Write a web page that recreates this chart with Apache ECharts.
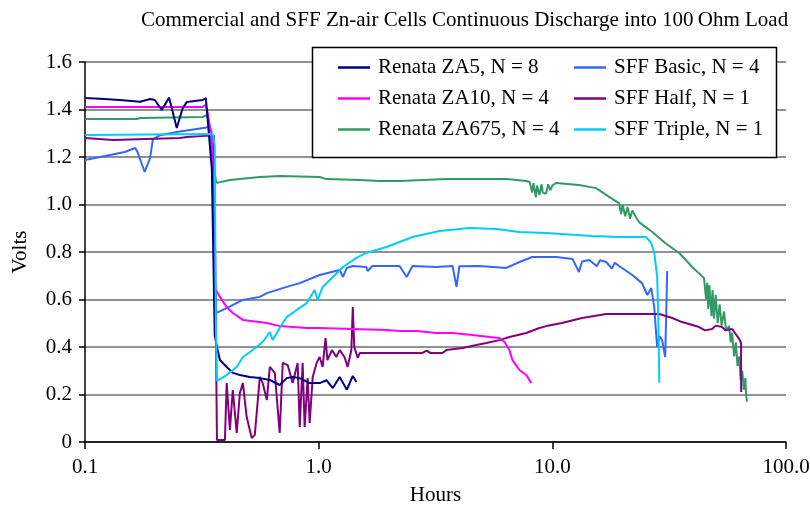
<!DOCTYPE html>
<html>
<head>
<meta charset="utf-8">
<script src="https://cdn.jsdelivr.net/npm/echarts@6/dist/echarts.min.js"></script>
<style>
  html, body { margin: 0; padding: 0; background: #fff; }
  #chart { width: 810px; height: 505px; }
</style>
</head>
<body>
<div id="chart"></div>
<script>
// [hours, volts]
const za5 = [[0.100,1.448],[0.116,1.445],[0.141,1.440],[0.172,1.433],[0.190,1.444],[0.199,1.440],[0.213,1.398],[0.229,1.450],
  [0.247,1.322],[0.262,1.406],[0.273,1.432],[0.319,1.440],[0.329,1.448],[0.332,1.44],[0.349,1.15],[0.359,0.45],[0.367,0.40],
  [0.378,0.345],[0.404,0.316],[0.429,0.291],[0.460,0.282],[0.507,0.274],[0.560,0.269],[0.618,0.261],[0.681,0.240],
  [0.730,0.269],[0.774,0.274],[0.830,0.269],[0.915,0.248],[1.01,0.248],[1.08,0.26],[1.15,0.227],[1.23,0.274],
  [1.32,0.22],[1.40,0.278],[1.45,0.253]];

const za10 = [[0.100,1.411],[0.200,1.411],[0.319,1.411],[0.329,1.42],[0.336,1.38],[0.349,1.27],[0.359,0.65],[0.378,0.611],
  [0.404,0.568],[0.429,0.543],[0.474,0.514],[0.600,0.501],[0.681,0.488],[0.889,0.480],[1.0,0.480],[1.95,0.472],
  [2.22,0.467],[2.62,0.467],[3.19,0.459],[3.74,0.459],[4.55,0.451],[5.38,0.442],[5.94,0.438],[6.24,0.421],
  [6.55,0.387],[6.75,0.345],[7.23,0.303],[7.74,0.282],[8.13,0.248]];

const za675 = [[0.100,1.360],[0.167,1.360],[0.172,1.364],[0.319,1.368],[0.332,1.377],[0.342,1.33],[0.352,1.2],[0.363,1.10],
  [0.367,1.091],[0.417,1.103],[0.560,1.116],[0.681,1.120],[1.01,1.116],[1.08,1.107],[1.50,1.103],[1.82,1.099],
  [2.22,1.099],[3.52,1.107],[6.36,1.107],[7.74,1.099],[8.0,1.095],[8.2,1.05],[8.3,1.09],[8.5,1.03],[8.6,1.08],
  [8.8,1.04],[9.0,1.085],[9.1,1.05],[9.4,1.045],[9.6,1.085],[9.8,1.06],[10.0,1.08],[10.4,1.091],[13.0,1.082],
  [15.4,1.069],[17.5,1.032],[19.3,1.006],[19.7,0.96],[20.0,1.0],[20.5,0.95],[21.0,0.99],[21.5,0.94],[22.0,0.975],
  [23.0,0.94],[23.5,0.926],[26.8,0.884],[30.4,0.838],[34.9,0.796],[39.7,0.737],[44.6,0.69],[45.5,0.60],[46.0,0.67],
  [46.5,0.56],[47.0,0.66],[48.0,0.53],[48.5,0.64],[49.2,0.52],[50.0,0.62],[51.0,0.50],[52.0,0.58],[53.0,0.49],
  [54.3,0.55],[55.4,0.47],[57.1,0.488],[58.0,0.42],[58.8,0.46],[60.0,0.36],[61.0,0.42],[62.0,0.32],[63.0,0.36],
  [64.0,0.26],[65.0,0.30],[66.0,0.22],[67.0,0.27],[67.5,0.20],[68.1,0.17]];

const sffBasic = [[0.100,1.187],[0.128,1.208],[0.148,1.221],[0.164,1.238],[0.168,1.22],[0.180,1.137],[0.190,1.196],
  [0.195,1.272],[0.209,1.292],[0.247,1.305],[0.301,1.318],[0.342,1.326],[0.349,1.30],[0.356,0.9],[0.363,0.543],
  [0.370,0.547],[0.404,0.564],[0.474,0.598],[0.560,0.611],[0.600,0.627],[0.730,0.653],[0.830,0.669],[1.01,0.703],
  [1.23,0.724],[1.27,0.695],[1.32,0.733],[1.40,0.741],[1.60,0.737],[1.62,0.72],[1.70,0.741],[2.22,0.741],[2.38,0.695],
  [2.52,0.741],[3.19,0.737],[3.74,0.741],[3.89,0.653],[4.0,0.74],[4.88,0.741],[6.36,0.733],[7.23,0.758],[8.21,0.779],
  [10.4,0.779],[12.2,0.771],[13.0,0.716],[13.4,0.76],[14.4,0.766],[15.5,0.74],[16.0,0.765],[17.0,0.758],[18.0,0.73],
  [18.5,0.755],[19.3,0.741],[22.0,0.703],[24.2,0.669],[25.5,0.619],[26.5,0.648],[27.3,0.568],[27.8,0.459],[28.1,0.40],
  [28.7,0.446],[29.5,0.429],[30.4,0.358],[30.7,0.526],[31.0,0.72]];

const sffHalf = [[0.100,1.280],[0.132,1.272],[0.255,1.280],[0.273,1.284],[0.340,1.29],[0.356,1.29],[0.363,0.5],[0.367,0.008],
  [0.397,0.008],[0.404,0.248],[0.417,0.051],[0.429,0.219],[0.446,0.038],[0.460,0.206],[0.474,0.248],[0.492,0.105],
  [0.517,0.017],[0.533,0.03],[0.560,0.274],[0.576,0.248],[0.600,0.177],[0.618,0.316],[0.649,0.291],[0.681,0.038],
  [0.702,0.333],[0.737,0.324],[0.774,0.248],[0.813,0.333],[0.830,0.063],[0.854,0.333],[0.871,0.063],[0.897,0.269],
  [0.915,0.080],[0.943,0.274],[0.980,0.333],[1.01,0.358],[1.04,0.316],[1.07,0.438],[1.09,0.345],[1.14,0.387],
  [1.19,0.358],[1.23,0.387],[1.29,0.358],[1.33,0.316],[1.38,0.387],[1.40,0.568],[1.42,0.400],[1.47,0.354],[1.50,0.375],
  [2.78,0.375],[2.9,0.385],[3.0,0.375],[3.39,0.375],[3.52,0.387],[4.13,0.396],[4.73,0.408],[5.22,0.417],[5.94,0.429],
  [6.55,0.442],[7.74,0.459],[8.80,0.480],[9.43,0.488],[11.0,0.501],[13.4,0.522],[17.0,0.539],[28.7,0.539],[32.6,0.522],
  [35.9,0.505],[42.5,0.484],[45.0,0.47],[48.3,0.476],[50.0,0.49],[53.3,0.484],[55.0,0.47],[58.8,0.476],[63.0,0.434],
  [64.2,0.417],[64.3,0.211]];

const sffTriple = [[0.100,1.293],[0.352,1.297],[0.359,1.25],[0.363,0.5],[0.367,0.257],[0.404,0.282],[0.446,0.316],
  [0.474,0.358],[0.522,0.387],[0.576,0.421],[0.618,0.463],[0.636,0.429],[0.681,0.480],[0.730,0.526],[0.805,0.556],
  [0.889,0.585],[0.961,0.640],[0.990,0.598],[1.04,0.653],[1.15,0.695],[1.27,0.737],[1.45,0.775],[1.60,0.796],
  [1.95,0.821],[2.22,0.842],[2.52,0.863],[3.29,0.888],[4.42,0.901],[5.77,0.897],[7.23,0.884],[9.43,0.880],
  [14.8,0.867],[19.3,0.863],[25.2,0.863],[26.5,0.838],[27.3,0.796],[28.1,0.695],[28.4,0.526],[28.7,0.25]];

const seriesNames = ['Renata ZA5, N = 8', 'Renata ZA10, N = 4', 'Renata ZA675, N = 4',
  'SFF Basic, N = 4', 'SFF Half, N = 1', 'SFF Triple, N = 1'];
const seriesData = [za5, za10, za675, sffBasic, sffHalf, sffTriple];
const colors = ['#000080', '#FF00FF', '#339966', '#3366FF', '#800080', '#00CCFF'];
// draw order (last on top)
const drawOrder = [2, 3, 4, 1, 0, 5];

const font = 'Liberation Serif';
const chart = echarts.init(document.getElementById('chart'), null, { renderer: 'canvas' });

const series = drawOrder.map(i => ({
  name: seriesNames[i],
  type: 'line',
  data: seriesData[i],
  symbol: 'none',
  color: colors[i],
  lineStyle: { width: 2, color: colors[i] },
  animation: false
}));

const legendText = { fontFamily: font, fontSize: 21, color: '#000', padding: [0, 0, 0, 3] };
const legendBase = {
  orient: 'vertical',
  top: 52,
  icon: 'rect',
  itemWidth: 32,
  itemHeight: 2.5,
  itemGap: 10,
  textStyle: legendText
};

const option = {
  backgroundColor: '#fff',
  title: {
    text: 'Commercial and SFF Zn-air Cells Continuous Discharge into 100\u2009Ohm Load',
    left: 136,
    top: 5,
    textStyle: { fontFamily: font, fontSize: 21, fontWeight: 'normal', color: '#000' }
  },
  legend: [
    Object.assign({ data: seriesNames.slice(0, 3), left: 333 }, legendBase),
    Object.assign({ data: seriesNames.slice(3), left: 569 }, legendBase)
  ],
  graphic: [{
    type: 'rect',
    shape: { x: 312.5, y: 47.5, width: 464, height: 110 },
    style: { fill: '#fff', stroke: '#000', lineWidth: 1.5 },
    z: 4
  }],
  grid: { left: 85, right: 24, top: 62, bottom: 63, outerBoundsMode: 'none', containLabel: false },
  xAxis: {
    type: 'log',
    logBase: 10,
    min: 0.1,
    max: 100,
    name: 'Hours',
    nameLocation: 'middle',
    nameGap: 43,
    nameTextStyle: { fontFamily: font, fontSize: 21, color: '#000' },
    axisLine: { lineStyle: { color: '#000', width: 1.5 } },
    axisTick: { show: true, length: 7, lineStyle: { color: '#000', width: 1.5 } },
    minorTick: { show: false },
    splitLine: { show: false },
    axisLabel: {
      fontFamily: font, fontSize: 21, color: '#000', margin: 15,
      formatter: v => v.toFixed(1)
    }
  },
  yAxis: {
    type: 'value',
    min: 0,
    max: 1.6,
    interval: 0.2,
    name: 'Volts',
    nameLocation: 'middle',
    nameGap: 54,
    nameRotate: 90,
    nameTextStyle: { fontFamily: font, fontSize: 21, color: '#000' },
    axisLine: { show: true, lineStyle: { color: '#000', width: 1.5 } },
    axisTick: { show: true, length: 6, lineStyle: { color: '#000', width: 1.5 } },
    splitLine: { lineStyle: { color: '#6e6e6e', width: 1.5 } },
    axisLabel: {
      fontFamily: font, fontSize: 21, color: '#000', margin: 13,
      formatter: v => (v === 0 ? '0' : v.toFixed(1))
    }
  },
  series: series
};

chart.setOption(option);
</script>
</body>
</html>
